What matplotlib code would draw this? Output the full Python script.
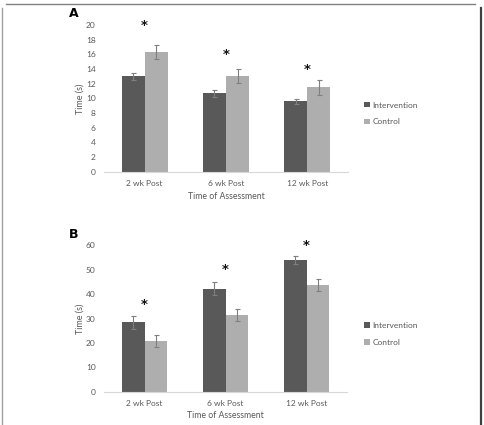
import matplotlib
matplotlib.use("Agg")
import matplotlib.pyplot as plt
import numpy as np
from matplotlib.lines import Line2D

plt.rcParams['font.family'] = ['Lato', 'DejaVu Sans']

categories = ["2 wk Post", "6 wk Post", "12 wk Post"]
series = ["Intervention", "Control"]

# panel A
a_int = [13.0, 10.7, 9.6]
a_int_err = [0.45, 0.45, 0.35]
a_ctl = [16.3, 13.05, 11.5]
a_ctl_err = [1.0, 1.0, 1.0]
a_star = [20.0, 16.0, 14.0]

# panel B
b_int = [28.5, 42.2, 54.0]
b_int_err = [2.7, 2.7, 1.6]
b_ctl = [20.8, 31.3, 43.6]
b_ctl_err = [2.3, 2.4, 2.5]
b_star = [35.7, 50.0, 60.0]

c_int = "#595959"
c_ctl = "#aeaeae"
txt = "#595959"

W, H = 484, 425
fig = plt.figure(figsize=(W / 100, H / 100), dpi=100)


def panel(rect, vint, eint, vctl, ectl, stars, ymax, ystep, letter, leg_y):
    ax = fig.add_axes(rect)
    x = np.arange(len(categories))
    bw = 0.283
    ekw = dict(ecolor="#7f7f7f", elinewidth=0.8, capsize=1.8, capthick=0.8)
    ax.bar(x - bw / 2, vint, bw, color=c_int, yerr=eint, error_kw=ekw, label=series[0])
    ax.bar(x + bw / 2, vctl, bw, color=c_ctl, yerr=ectl, error_kw=ekw, label=series[1])
    for xi, s in zip(x, stars):
        ax.text(xi, s, "*", ha="center", va="center", fontsize=9.5, fontweight="bold",
                color="#111111", family="DejaVu Sans")
    ax.set_xlim(-0.5, 2.5)
    ax.set_ylim(0, ymax)
    ax.set_yticks(np.arange(0, ymax + 0.1, ystep))
    ax.set_xticks(x)
    ax.set_xticklabels(categories)
    for s in ["top", "right", "left"]:
        ax.spines[s].set_visible(False)
    ax.spines["bottom"].set_color("#d9d9d9")
    ax.spines["bottom"].set_linewidth(0.8)
    ax.tick_params(length=0, labelsize=6.0, labelcolor=txt)
    ax.tick_params(axis="y", pad=6)
    ax.tick_params(axis="x", pad=6)
    ax.set_ylabel("Time (s)", fontsize=6.5, color=txt)
    ax.yaxis.set_label_coords(-0.08, 0.5)
    ax.set_xlabel("Time of Assessment", fontsize=6.3, color=txt)
    ax.xaxis.set_label_coords(0.5, -0.135)
    ax.text(-0.123, 1.075, letter, transform=ax.transAxes, fontsize=9,
            fontweight="bold", ha="center", va="center", family="DejaVu Sans")
    ax.legend(loc="center left", bbox_to_anchor=(0.744, leg_y), bbox_transform=fig.transFigure,
              frameon=False, fontsize=6.0, handlelength=0.65, handleheight=0.65,
              handletextpad=0.3, labelspacing=1.2, borderpad=0, labelcolor=txt)
    return ax


panel([104 / W, 1 - 171.7 / H, 244 / W, 146.7 / H], a_int, a_int_err, a_ctl, a_ctl_err,
      a_star, 20, 2, "A", 1 - 113.5 / H)
panel([104 / W, 1 - 391.7 / H, 243 / W, 146.4 / H], b_int, b_int_err, b_ctl, b_ctl_err,
      b_star, 60, 10, "B", 1 - 334 / H)

# frame around the figure
fig.add_artist(Line2D([1.5 / W, 1.5 / W], [0, 1 - 8 / H], transform=fig.transFigure, color="#a0a0a0", lw=1.0))
fig.add_artist(Line2D([6 / W, 475 / W], [1 - 3.5 / H, 1 - 3.5 / H], transform=fig.transFigure, color="#808080", lw=1.0))
fig.add_artist(Line2D([481 / W, 481 / W], [0, 1 - 8 / H], transform=fig.transFigure, color="#404040", lw=1.6))

fig.savefig("out.png", dpi=100)
